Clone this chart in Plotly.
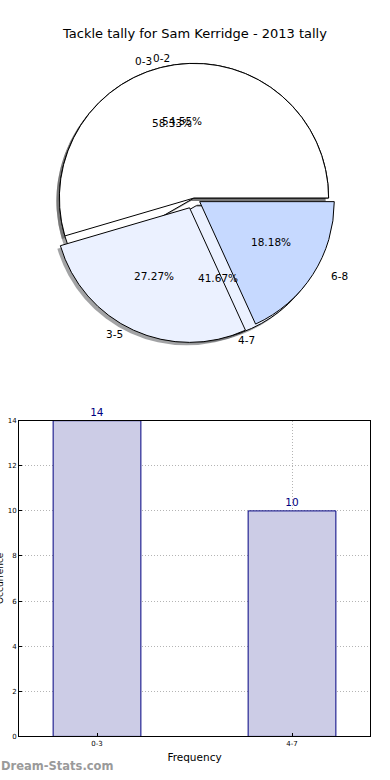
import math
import plotly.graph_objects as go

# ---------------- data ----------------
chart_title = "Tackle tally for Sam Kerridge - 2013 tally"

pie1_labels = ["0-3", "4-7"]
pie1_values = [14, 10]
pie1_explode = [0, 0.06]

pie2_labels = ["0-2", "3-5", "6-8"]
pie2_values = [12, 6, 4]
pie2_explode = [0, 0.08, 0.05]

pie_colors = ["#ffffff", "#ebf1ff", "#c6d9ff"]

bar_categories = ["0-3", "4-7"]
bar_values = [14, 10]
y_tick_values = [0, 2, 4, 6, 8, 10, 12, 14]

x_title = "Frequency"
y_title = "Occurrence"
watermark = "Dream-Stats.com"

# ---------------- geometry ----------------
W, H = 390, 780
CX, CY = 194, 196          # pie centre (px from top-left)
R = 136                    # plotly pie radius (px)
RX, RY = 140, 129          # matplotlib-like text radii (px)
FONT = "DejaVu Sans"


def px(x):
    return x / W


def py(y):
    return 1 - y / H


def pie_domain(explode, dx=0, dy=0):
    half = R * (1 + max(explode))
    return dict(x=[px(CX + dx - half), px(CX + dx + half)],
                y=[py(CY + dy + half), py(CY + dy - half)])


def shade(hexcol):
    r = int(hexcol[1:3], 16); g = int(hexcol[3:5], 16); b = int(hexcol[5:7], 16)
    return f"rgba({int(r*0.3)},{int(g*0.3)},{int(b*0.3)},0.5)"


def pie_trace(labels, values, explode, colors, shadow=False):
    dom = pie_domain(explode, -3, 3) if shadow else pie_domain(explode)
    # first slice starts at 3 o'clock and runs counter-clockwise (matplotlib style)
    rot = 90 - values[0] / sum(values) * 360
    return go.Pie(
        labels=labels, values=values, pull=explode,
        sort=False, direction="counterclockwise", rotation=rot,
        marker=dict(colors=[shade(c) for c in colors] if shadow else colors,
                    line=dict(color="rgba(0,0,0,0)" if shadow else "black",
                              width=0 if shadow else 1)),
        textinfo="none", hoverinfo="skip", showlegend=False,
        domain=dom,
    )


fig = go.Figure()
c1 = pie_colors[:len(pie1_values)]
c2 = pie_colors[:len(pie2_values)]
fig.add_trace(pie_trace(pie1_labels, pie1_values, pie1_explode, c1, shadow=True))
fig.add_trace(pie_trace(pie2_labels, pie2_values, pie2_explode, c2, shadow=True))
fig.add_trace(pie_trace(pie1_labels, pie1_values, pie1_explode, c1))
fig.add_trace(pie_trace(pie2_labels, pie2_values, pie2_explode, c2))

annotations = []


def pie_texts(labels, values, explode):
    total = sum(values)
    t = 0.0
    for lab, v, e in zip(labels, values, explode):
        frac = v / total
        mid = math.radians((t + frac / 2) * 360)
        t += frac
        ca, sa = math.cos(mid), math.sin(mid)
        lx = CX + (1.1 + e) * RX * ca
        ly = CY - 1 - (1.1 + e) * RY * sa
        annotations.append(dict(
            x=px(lx), y=py(ly), xref="paper", yref="paper", text=lab,
            showarrow=False, xanchor="left" if ca > 0 else "right", yanchor="middle",
            font=dict(family=FONT, size=10.5, color="black")))
        tx = CX + (0.6 + e) * RX * ca
        ty = CY - 1 - (0.6 + e) * RY * sa
        annotations.append(dict(
            x=px(tx), y=py(ty), xref="paper", yref="paper", text=f"{frac*100:.2f}%",
            showarrow=False, xanchor="center", yanchor="middle",
            font=dict(family=FONT, size=10.5, color="black")))


pie_texts(pie1_labels, pie1_values, pie1_explode)
pie_texts(pie2_labels, pie2_values, pie2_explode)

# ---------------- bar chart ----------------
fig.add_trace(go.Bar(
    x=bar_categories, y=bar_values, width=0.45,
    marker=dict(color="#ccccE6", line=dict(color="#000080", width=1)),
    text=[str(v) for v in bar_values], textposition="outside",
    textfont=dict(family=FONT, size=10.5, color="#000080"),
    cliponaxis=False, hoverinfo="skip", showlegend=False,
    xaxis="x", yaxis="y",
))

annotations.append(dict(x=px(194), y=py(30), xref="paper", yref="paper", text=chart_title,
                        showarrow=False, xanchor="center", yanchor="middle",
                        font=dict(family=FONT, size=13, color="black")))
annotations.append(dict(x=px(0), y=py(580), xref="paper", yref="paper", text=y_title,
                        textangle=-90, showarrow=False, xanchor="center", yanchor="middle",
                        font=dict(family=FONT, size=9, color="black")))
annotations.append(dict(x=px(-1), y=py(770), xref="paper", yref="paper", text=watermark,
                        showarrow=False, xanchor="left", yanchor="middle",
                        font=dict(family=FONT, size=11.5, color="#9a9a9a", weight="bold")))

axis_common = dict(showline=True, linecolor="black", linewidth=1, mirror=True,
                   showgrid=True, gridcolor="#b4b4b4", griddash="1px,2px", gridwidth=1,
                   ticks="inside", ticklen=3, tickcolor="black",
                   tickfont=dict(family=FONT, size=7, color="black"), zeroline=False)

fig.update_layout(
    width=W, height=H,
    margin=dict(l=0, r=0, t=0, b=0),
    paper_bgcolor="white", plot_bgcolor="white",
    xaxis=dict(domain=[px(19), px(370)], anchor="y", range=[-0.4, 1.4],
               title=dict(text=x_title, font=dict(family=FONT, size=10.5, color="black"),
                          standoff=6),
               **axis_common),
    yaxis=dict(domain=[py(740), py(421)], anchor="x", range=[0, 14],
               tickvals=y_tick_values, **axis_common),
    annotations=annotations,
    font=dict(family=FONT),
)

fig.write_html(
    "out.html",
    config={"displayModeBar": False, "staticPlot": True},
    post_script="document.body.style.margin='0';document.body.style.overflow='hidden';",
)
